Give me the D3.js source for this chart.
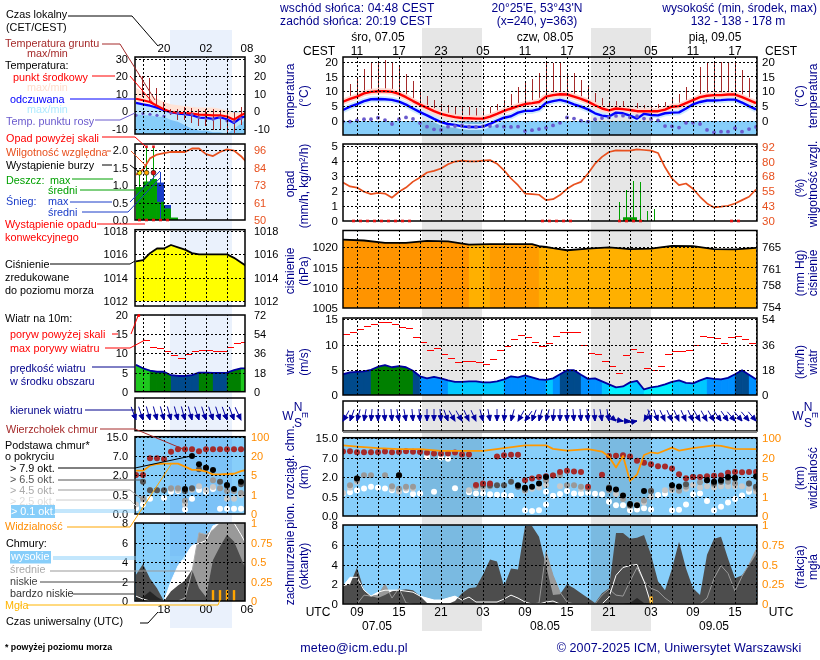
<![CDATA[<!DOCTYPE html>
<html><head><meta charset="utf-8">
<script src="https://cdn.jsdelivr.net/npm/d3@7"></script>
<style>
html,body{margin:0;padding:0;background:#fff}
svg{display:block}
text{font-family:"Liberation Sans",Arial,sans-serif}
</style></head><body>
<svg id="c" width="820" height="660"></svg>
<script>
// ---------- main meteogram (hourly, UTC hours counted from 00 on 07.05) ----------
const mainTemp=[6.5,7.4,8.2,9.3,9.8,10,10,9.8,9.1,8,6.7,5.5,4.4,3.3,2.4,1.8,1.3,1,.9,.8,.8,1.5,2.4,3.4,4.2,5,5.7,6,6.4,8.2,8.7,9,8.9,8.2,7.4,6.5,5.3,4.2,3.6,4.2,4,3.7,3.3,3.3,3.3,3.3,3.8,4.8,5,6,7,8,8.5,8.7,8.7,8.9,8.9,8,7,6];
const mainFelt=[3.7,4.8,5.7,6.7,7.3,7.4,7.3,7.1,6.5,5.5,4.2,3,1.9,.7,-.4,-1,-1.3,-1.8,-2,-2,-1.9,-1,.1,1.1,1.6,2.8,3.4,3.4,4,6.1,6.7,7.1,6.5,5.6,4.8,3.9,2.6,1.8,1.5,2.8,2.6,1.8,.8,2.4,2,1.9,2.6,2.8,2.9,4.2,5.6,6.4,6.9,6.9,7,7.2,7.2,6.2,5,3.9];
const mainDew=[-.2,-.2,.2,.6,.6,1.1,.3,-1,.6,1.2,.7,-.7,-1.9,-2.8,-3,-1.9,-1.7,-1.5,-1.9,-2,-1.8,-1.7,-1.7,-1.9,-2,-1.9,-3.4,-3.1,-2.7,-2.3,-1.5,-.6,1.2,.8,.1,-.2,.6,1,1.2,1.7,1.8,1.2,1.6,.8,.7,.2,-1.7,-1.8,-2.2,-.6,-.6,-1,-3,-3.8,-3.6,-3.6,-2.4,-3.6,-2.7,-2];
const mainGroundMax=[6.5,12.5,14.4,17.4,19.4,20,20.6,20,18.3,15.7,13.5,10.7,8.4,7,5.7,5.3,4.8,4.6,4.6,4.3,4.3,4.6,5.7,7,9,11.3,13.3,14,16,19.4,19.4,19.4,16,16,13.8,11.3,9.3,7.6,6,6.7,6.7,4.8,6,5.4,4.8,5.6,6.5,7.6,9,11.3,7,18,19.7,19.9,19.9,19.9,19.4,17.2,14.4,7];
const mainGroundMin=[6,7,7.8,8.8,9.3,9.5,9.5,9.3,8.6,7.5,6.2,5,3.9,2.8,1.9,1.3,.8,.5,.4,.3,.3,1,1.9,2.9,3.7,4.5,5.2,5.5,5.9,7.7,8.2,8.5,8.4,7.7,6.9,6,4.8,3.7,2.6,3.2,3.2,3.2,2.8,2.8,2.8,2.8,3.3,4.3,4.5,5.5,6.5,7.5,8,8.2,8.2,8.4,8.4,7.5,6.5,5.5];
const mainHumidity=[62.3,59,58,54.5,52.5,53.6,53,49.5,54.5,58,63,66.4,70.6,72,74,77.5,79.8,80.6,80,80,80.6,81,78,72.5,65.6,60,53,52.5,52,47.5,48.3,51.7,57,60.6,62.8,69.8,78,83.7,87.8,89.2,89,89,90,89.5,89,87,75,65.6,60,61.4,57,50.3,44.7,41.4,42,42.8,44.7,47.5,50.3,56.4];
const mainRainMaxHours=[46.5,47.5,48.5,49.5,50.5,51.5];
const mainRainMax=[1.3,2.1,2.65,2.6,.7,.78];
const mainRainMeanHours=[47,48,49];
const mainRainMean=[.25,.25,.05];
const mainConvective=[8.5,9.5,10.5,11.5,12.5,13.5,14.5,15.5,16.5,35.5,36.5,37.5,38.5,39.5,46.5,47.5,48.5,49.5,62.5,63.5];
const mainPressureHours=[7,10,13,16,19,22,25,28,31,34,35,36,37,39,42,45,48,51,54,57,60,63,66];
const mainPressure=[1021.8,1021.6,1021,1021,1021.5,1021.4,1020.6,1020.7,1020.7,1020.7,1020.2,1020,1019.7,1019.2,1019.6,1019.9,1019.5,1019.6,1020.3,1020.2,1019.5,1019.4,1019.8];
const mainWind=[4.1,4.5,4.6,4.7,5,5.6,5.9,5.5,5.7,5.5,4.8,3.7,3.3,3.6,3.3,2.9,2.6,2.6,2.7,2.7,2.5,2.5,2.7,3.1,3.7,3.5,3.9,3.5,3.1,3,3.3,4.1,4.9,4.9,4,3.2,3.3,2.7,2.1,1.5,1.7,2.5,2.8,1.1,1.5,1.7,2.1,2.6,2.9,2.4,2.3,2.9,3.4,3.2,3.1,3.4,4.1,4.9,4,3.1];
const mainGust=[12,12.3,12.9,13.6,14,14.4,14.4,13.9,13.4,13.2,11.3,10.5,8.9,9.3,8.1,7.3,6.5,6.7,6.7,6.4,6.1,7.1,8.9,9.7,10.9,11.7,11.3,10.5,9.7,10.3,11.6,12.3,12.3,12.3,9.9,8.3,8.1,6.7,5.6,4.3,7.9,9.1,8.5,5.3,4.9,5.7,8.1,8.7,8.7,8.9,9.9,11.5,11.3,11.1,10.3,11.3,11.5,10.9,10.2];
const mainDirection=[30,20,15,10,5,0,-5,-5,-10,-10,-5,-5,0,0,-5,-20,-30,-30,-25,-25,-15,-10,0,5,15,30,35,20,15,15,5,0,0,-5,-5,-5,-5,-10,-10,-50,-80,-90,-100,30,-15,-20,-25,-25,-25,-25,-25,-30,-30,-30,-35,-35,-40,-40,-40,-40];
const mainCloudTop=[[7,9.5],[8,9.6],[9,9.2],[10,9.2],[11,9.2],[12,9.2],[13,9.5],[14,9.2],[15,9.3],[16,9.6],[17,9.4],[18,9.3],[19,9],[20,8.7],[21,8.6],[22,8.7],[23,9.1],[24,8.3],[25,8.3],[26,1.4],[27,1.5],[28,1.5],[29,7.5],[30,8],[31,8.2],[32,8.2],[33,1.75],[34,1.88],[35,2],[36,2.2],[37,2.4],[38,3.3],[39,3.6],[40,3.4],[41,3.3],[42,1.25],[44,2.6],[45,7.7],[46,7.8],[47,8],[48,7.5],[49,6.2],[50,5.7],[51,5.3],[52,4.8],[53,4.7],[54,4.2],[55,2.7],[56,1.9],[57,2],[58,2],[59,2.2],[60,2.3],[61,2.4],[62,3.1],[63,3.3],[64,3.2],[65,3.3],[66,3.3]];
const mainBase79=[[9,1.88],[15,2.44],[32,1.38],[33,1.18],[34,1.25],[35,1.5],[36,2],[45,1.13],[46,1.05],[47,.6],[48,.31],[49,.28],[50,.93],[54,1.38],[55,1.28],[59,1.75],[60,1.63],[61,1.75],[62,2],[63,1.95],[66,2.1]];
const mainBase65=[[9,1.88],[15,2.44],[27,1.43],[28,1.38],[29,1.38],[30,1.38],[31,1.63],[32,1.25],[33,1.13],[45,1.2],[48,.28],[51,.93],[56,1.45],[57,2],[59,1.75],[60,1.55],[61,1.63],[62,1.93],[63,1.88],[65,1.5],[66,1.25]];
const mainBase45=[[8,1.38],[9,1.75],[10,2.44],[11,2.44],[13,2.44],[14,1.3],[15,1.1],[16,1.25],[17,1.25],[26,1.3],[27,1.3],[28,1.3],[33,1],[36,1.75],[37,2.44],[38,2.44],[39,1.38],[40,1.38],[41,1.25],[42,1.13],[45,1],[47,.44],[48,.28],[50,.4],[51,.93],[54,1.13],[55,.95],[56,1.25],[58,1.6],[60,1.43],[62,1.63],[63,1.5],[65,1.5],[66,1.13]];
const mainBase25=[[7,.78],[8,1.18],[9,1.63],[14,1.1],[15,.88],[16,1.13],[17,1.13],[25,1],[26,1.18],[27,1.13],[33,.95],[34,1.1],[35,1.2],[36,1.4],[38,1.3],[41,1.1],[42,1.2],[46,.7],[47,.6],[48,.25],[49,.3],[50,.35],[51,.5],[53,1],[54,1],[55,.95],[56,1.1],[57,1.4],[58,1.2],[59,1.3],[60,1.2],[61,1.3],[62,1.3],[63,1.3],[64,1.3],[65,1.1],[66,.9]];
const mainBase01=[[7,.75],[8,.83],[9,1],[10,1.13],[11,1.25],[12,1.18],[13,1.13],[14,1],[15,.93],[16,1],[17,.7],[18,.75],[19,7.3],[20,.88],[21,7.1],[22,6.7],[23,1.15],[25,.83],[26,.75],[27,.75],[28,.68],[29,.65],[30,.63],[31,.58],[33,.15],[34,.13],[35,.15],[36,.3],[36,.88],[37,.58],[38,.7],[39,.93],[40,.75],[41,.75],[42,.8],[43,.73],[44,.68],[45,.37],[46,.28],[47,.28],[48,.15],[49,.17],[50,.2],[51,.17],[52,.63],[53,.73],[54,.15],[55,.16],[56,.3],[57,.68],[58,.75],[59,.39],[60,.15],[61,.24],[62,.35],[63,.44],[64,.6],[65,.88],[66,1]];
const mainVisHours=[7,9,12,15,18,21,24,27,30,33,36,37,39,42,44,45,46,47,48,49,50,51,52,54,55,57,60,61,63,66];
const mainVisibility=[70,65,59,55,55,48,48,48,59,70,70,56,49,55,45,24,12.4,27,4.2,6.8,31,42,38,61,49,59,70,68,56,55];
const mainCloudLow=[1.8,2,3.7,1.4,.8,.6,.9,1.3,1.4,1.5,1.4,.8,.1,0,0,0,.3,1.1,1.6,1.7,3,4.5,4.3,1.8,3.6,3.5,7.9,7.9,6.8,3.9,.9,1,2,1.6,1.1,.6,.1,1.1,1.6,7.2,7.2,6.6,6.7,7,5,2.3,1.4,3.6,6.3,3.6,1.6,.9,5,6.6,6.8,4.6,2.6,2.9,3.9,5];
const mainCloudMid=[0,0,0,.9,.8,.9,2,.6,1.6,.1,0,0,0,0,0,0,0,0,0,0,0,0,0,0,0,0,0,0,.1,5.3,2.9,1.2,.2,0,0,0,0,.9,1.5,.9,.8,2.3,3.7,2.3,1.6,1.3,.6,.1,0,0,0,0,.6,2.6,3.9,3.1,1.3,2.8,4,5.5];
const mainCloudHigh=[1.8,2.7,2.7,1.4,.8,1.2,1.4,1.4,1.4,1.3,1.2,.8,.6,.4,.4,.6,.8,.4,.7,.2,.2,.2,.2,.5,.9,.6,.2,0,0,.2,.3,0,0,0,0,0,0,0,.7,2.9,3.7,3.9,4,2.3,0,0,0,0,0,0,0,0,0,0,0,0,0,0,0,0];
const mainCloudVeryLow=[0,0,0,0,0,0,0,0,0,0,0,0,0,0,0,0,0,0,0,0,0,0,0,0,0,0,0,0,0,0,0,0,0,0,0,0,0,0,0,0,0,.1,.6,.1,0,0,0,0,0,0,0,0,0,0,0,0,0,0,0,0];
const mainFogHours=[51];
const mainFog=[.09];

// ---------- short-range column (left), hourly from 14 UTC ----------
const leftTemp=[7.2,6.3,5.3,3.2,1.1,-.4,-1,-1,-1.3,-1.9,-2.1,-2.3,-2.3,-3,-4.8,-2.3,-.4];
const leftFelt=[4.8,4,3.2,2.1,.6,-.6,-1.3,-1.7,-2.3,-3.6,-3.8,-4.4,-3.4,-4.6,-6.7,-3.6,-2.7];
const leftTempMax=[13.5,11,9.1,7.2,5.3,4,3.4,3,2.5,2.1,2.1,2.1,1.5,.6,-.8,-.4,.6];
const leftFeltMin=[-1.5,-2.3,-2.3,-3.2,-3.2,-5,-6,-8,-10,-11,-11,-12,-12,-13,-10,-7,-3.2];
const leftDew=[-2.3,-1.3,-1.7,-2.3,-2.7,-1,-1,-1.3,-1.9,-3.6,-4.2,-4.6,-3.6,-5.5,-6,-4.2,-3];
const leftGroundHours=[15,16,17,18,19,20,21,22,23,24,25,26,27,28,29];
const leftGroundMax=[20,19,13.5,5.3,1.5,1.5,2.5,2.1,1.5,1.5,1.5,.6,.6,-.4,2.5];
const leftGroundMin=[8,5.3,3.4,.6,-2.3,-5,-5,-7,-8.6,-8.6,-10.5,-10.5,-12,-12.4,-8];
const leftHumidity=[79.7,83,90.5,93,94,94.7,94.7,94.7,97,97,93.3,92,94.7,96.4,95.6,91.9,87];
const leftRainHours=[14,15,16,17,18,19];
const leftRainMean=[.94,1.1,1.17,.52,.33,.07];
const leftSnowMean=[0,0,0,1.07,.43,0];
const leftRainMaxHours=[14.5,15.5,16.5];
const leftRainMax=[1.35,2.1,2.1];
const leftSnowMaxHours=[17.5];
const leftSnowMax=[1.38];
const leftOverScale=[15.5,16.5];
const leftStormHours=[14.5,15.5,16.5];
const leftStormLevel=[1,2,3];
const leftConvective=[14.5,15.5,16.5,17.5,18.5];
const leftPressure=[1015.4,1015.5,1016.1,1016.5,1016.5,1016.8,1016.6,1016.4,1016.1,1016,1016,1016,1016,1016,1015.7,1015.3,1014.9];
const leftWind=[7,6.1,5.5,5.2,5.2,4.3,4.1,4.1,4.3,5,5,4.9,4.9,5,5.6,6.1,6.1];
const leftGustHours=[15,16,17,18,19,20,21,22,23,24,25,26,27,28,29];
const leftGust=[13.4,11.5,11.2,10.4,9.5,8.7,9.7,10.4,10.7,10.7,10.4,10.4,11.5,12.6,12.9];
const leftOverGustHours=[14.4];
const leftOverGust=[19.9];
const leftDirection=[-20,-18,-15,-15,-15,-15,-15,-15,-15,-18,-18,-18,-18,-20,-20,-25];
const leftCloudTop=[[14,2],[15,2],[16,6.4],[17,6.4],[18,6.2],[19,8.8],[20,9.8],[21,9.8],[22,9.8],[23,9],[24,9.8],[25,9.8],[26,9.8],[27,9.8],[28,9.8],[29,9.8]];
const leftBase79=[[21,.95],[22,7],[23,4.8],[24,3.93],[25,3.3],[27,1.25],[28,.95],[29,1.5],[30,1.9]];
const leftBase65=[[15,1.5],[16,.85],[17,.85],[18,.85],[21,.8],[22,1],[23,3.5],[24,3.9],[26,1.5],[27,1.2],[29,1.3],[30,1.5]];
const leftBase45=[[15,.4],[16,.85],[17,.85],[19,1],[20,1],[21,.35],[22,.95],[25,1.6],[26,1],[27,.8],[28,.8],[29,.65]];
const leftBase25=[[14,.25],[15,.38],[19,.95],[20,.88],[21,.25],[22,.9],[23,1.15],[24,.88],[25,1.1],[27,.4],[28,.4],[29,.5]];
const leftBase01=[[14,.15],[15,.25],[16,.4],[18,.42],[19,.75],[20,.8],[21,.12],[22,.4],[23,.88],[24,.75],[25,.95],[26,.14],[27,.14],[28,.14],[29,.14]];
const leftVisibility=[8.4,8.4,12.4,13.7,14,14,14,11.6,9,9,7.6,5.5,5.5,5.8,6,8,9.3];
const leftCloudLow=[2.7,3.8,2.3,1.3,0,1,1.6,2.1,3.2,1.3,.4,4.2,5.6,6.8,6.1,4.4,2.7];
const leftCloudMid=[0,0,0,0,0,0,0,.3,3,7,6.8,7.3,8,8,8,8,8];
const leftCloudHigh=[.5,.2,0,0,0,2,3.6,4.6,5.7,5.9,6.2,7.7,8,8,8,6.8,5.5];
const leftCloudVeryLow=[.5,.4,1,.4,0,0,0,0,0,0,0,0,0,0,0,0,0];
const leftFogHours=[25,26,27,28];
const leftFog=[.14,.14,.14,.14];

// ---------- tick labels ----------
const mainLocalTicks=[9,15,21,27,33,39,45,51,57,63];
const mainLocalLabels=["11","17","23","05","11","17","23","05","11","17"];
const mainUtcLabels=["09","15","21","03","09","15","21","03","09","15"];
const dayLabels=["śro, 07.05","czw, 08.05","pią, 09.05"];
const dateLabels=["07.05","08.05","09.05"];
const leftTimeTicks=[18,24,29.85];
const leftLocalLabels=["20","02","08"];
const leftUtcLabels=["18","00","06"];

// ---------- drawing ----------
const svg=d3.select("#c");
const BLUE="#00008b",SKY="#87cefa",RED="#ff0000",OR="#ff8c00",HUM="#e8501e",GREEN="#00a000";
svg.append("rect").attr("width",820).attr("height",660).attr("fill","#fff");
const xMain=d3.scaleLinear([7,66.14],[343,757]);
const xLeft=d3.scaleLinear([13.86,29.57],[135,245]);
const hoursOf=(arr,start)=>arr.map((_,i)=>i+start);
let clipN=0;

// night shading lies under every plot; only the sky colour multiplies with it
[[422,482],[591,651]].forEach(b=>svg.append("rect").attr("x",b[0]).attr("y",28).attr("width",b[1]-b[0]).attr("height",603).attr("fill","#e6e6e6"));
svg.append("rect").attr("x",170).attr("y",30).attr("width",62).attr("height",598).attr("fill","#eaf1fc");

function panel(x,top,bottom,yGrid,leftAx,rightAx,opts={}){
  const x0=x.range()[0],x1=x.range()[1];
  const id="cp"+(clipN++);
  svg.append("clipPath").attr("id",id).append("rect").attr("x",x0).attr("y",top).attr("width",x1-x0).attr("height",bottom-top);
  if(opts.skyFrom!==undefined){
    svg.append("rect").attr("x",x0).attr("y",opts.skyFrom).attr("width",x1-x0).attr("height",bottom-opts.skyFrom)
      .attr("fill",SKY).style("mix-blend-mode","multiply");
  }
  const g=svg.append("g").attr("clip-path",`url(#${id})`);
  return {g,id,x0,x1,top,bottom,finish(){
    const hours=d3.range(Math.ceil(x.domain()[0]/3)*3,x.domain()[1],3);
    const vg=svg.append("g").attr("clip-path",`url(#${id})`).append("g").attr("transform",`translate(0,${bottom})`)
      .call(d3.axisBottom(x).tickValues(hours).tickSize(-(bottom-top)).tickFormat(""));
    vg.select(".domain").remove();
    vg.selectAll("text").remove();
    vg.selectAll("line").attr("stroke","#000").attr("stroke-dasharray","2,2").attr("shape-rendering","crispEdges");
    if(yGrid){
      const hg=svg.append("g").attr("clip-path",`url(#${id})`).append("g").attr("transform",`translate(${x0},0)`)
        .call(d3.axisLeft(yGrid.scale).tickValues(yGrid.values).tickSize(-(x1-x0)).tickFormat(""));
      hg.select(".domain").remove();
      hg.selectAll("text").remove();
      hg.selectAll("line").attr("stroke","#000").attr("stroke-dasharray","2,2").attr("shape-rendering","crispEdges");
    }
    svg.append("rect").attr("x",x0).attr("y",top).attr("width",x1-x0).attr("height",bottom-top)
      .attr("fill","none").attr("stroke","#000").attr("stroke-width",1.5);
    if(leftAx) tickAxis(d3.axisLeft,x0,leftAx,opts.padL||5);
    if(rightAx) tickAxis(d3.axisRight,x1,rightAx,opts.padR||5);
  }};
}
function tickAxis(kind,xp,ax,pad){
  const a=svg.append("g").attr("transform",`translate(${xp},0)`)
    .call(kind(ax.scale).tickValues(ax.values).tickSize(0).tickPadding(pad).tickFormat(ax.format||(d=>d)));
  a.select(".domain").remove();
  a.selectAll("text").attr("fill",ax.color||"#000").style("font-size",(ax.size||11.5)+"px")
    .style("font-family","'Liberation Sans',Arial,sans-serif");
}
function line(g,x,y,hs,vs,color,w,curve){
  const l=d3.line().x(d=>x(d[0])).y(d=>y(d[1])).curve(curve||d3.curveLinear);
  return g.append("path").attr("d",l(hs.map((h,i)=>[h,vs[i]]))).attr("fill","none").attr("stroke",color).attr("stroke-width",w).attr("stroke-linejoin","round");
}
function band(g,x,y,hs,a,b,color){
  const ar=d3.area().x(d=>x(d[0])).y0(d=>y(d[1])).y1(d=>y(d[2]));
  g.append("path").attr("d",ar(hs.map((h,i)=>[h,a[i],b[i]]))).attr("fill",color);
}
function segFill(g,x,y,hs,vs,colorScale){
  const ar=d3.area().x(d=>x(d[0])).y0(y.range()[0]).y1(d=>y(d[1]));
  for(let i=0;i<hs.length-1;i++){
    g.append("path").attr("d",ar([[hs[i],vs[i]],[hs[i+1],vs[i+1]]])).attr("fill",colorScale(vs[i]))
      .attr("stroke",colorScale(vs[i])).attr("stroke-width",.3);
  }
}
function dots(g,x,y,pairs,color,r){
  g.selectAll(null).data(pairs).join("circle").attr("cx",d=>x(d[0])).attr("cy",d=>y(d[1])).attr("r",r).attr("fill",color);
}
function vbars(g,x,y,hs,a,b,color,w){
  g.selectAll(null).data(hs.map((h,i)=>[h,a?a[i]:0,b[i]])).join("line")
    .attr("x1",d=>x(d[0])).attr("x2",d=>x(d[0])).attr("y1",d=>y(d[1])).attr("y2",d=>y(d[2]))
    .attr("stroke",color).attr("stroke-width",w).attr("shape-rendering","crispEdges");
}
function bars(g,x,y,hs,vs,color){
  g.selectAll(null).data(hs.map((h,i)=>[h,vs[i]])).join("rect")
    .attr("x",d=>x(d[0])).attr("width",d=>x(d[0]+1)-x(d[0])).attr("y",d=>y(d[1])).attr("height",d=>y(0)-y(d[1])).attr("fill",color);
}
function gusts(g,x,y,hs,vs){
  g.selectAll(null).data(vs).join("line").attr("x1",(d,i)=>x(hs[i])).attr("x2",(d,i)=>x(hs[i]+1))
    .attr("y1",d=>y(d)).attr("y2",d=>y(d)).attr("stroke",RED).attr("stroke-width",1).attr("shape-rendering","crispEdges");
}
function convective(x,yp,hs){
  svg.selectAll(null).data(hs).join("rect").attr("x",d=>x(d)-1.5).attr("width",3).attr("y",yp).attr("height",2.6).attr("fill","#e01010");
}
function arrows(x,yHead,hs,dirs,len){
  const g=svg.append("g");
  g.selectAll(null).data(hs.map((h,i)=>[h,dirs[i]])).join("path")
    .attr("transform",d=>`translate(${x(d[0])},${yHead}) rotate(${d[1]})`)
    .attr("d",`M0,${-len}L0,0M-2.4,-5.5L0,0L2.4,-5.5Z`).attr("fill","#0000a0").attr("stroke","#0000a0").attr("stroke-width",.9);
}
const windColor=d3.scaleThreshold([2.2,3.05,4.05,5,6],["#00f0ff","#00c8ff","#0090ff","#004a8c","#008000","#1ec81e"]);
const pressColorMain=d3.scaleThreshold([1020.65,1021],["#ffb000","#ff9c00","#ff9400"]);
const pressColorLeft=()=>"#ffff00";
const baseDomain=[0,.5,2,7,15];
const visDomain=[0,1,5,20,100];
const okFmt=d3.format(".1f");

// ---- MAIN COLUMN ----
{ // temperature
 const y=d3.scaleLinear([0,20],[121,61.5]);
 const p=panel(xMain,57,135,{scale:y,values:[0,5,10,15,20]},{scale:y,values:[0,5,10,15,20]},{scale:y,values:[0,5,10,15,20]},{skyFrom:y(0)});
 const hs=hoursOf(mainTemp,7);
 vbars(p.g,xMain,y,hs,mainGroundMin,mainGroundMax,"#a52a2a",1);
 line(p.g,xMain,y,hs,mainFelt,"#cdeafd",6);
 line(p.g,xMain,y,hs,mainTemp,"#ffd8d0",6);
 line(p.g,xMain,y,hs,mainFelt,"#0000ff",2.4);
 line(p.g,xMain,y,hs,mainTemp,RED,2.4);
 dots(p.g,xMain,y,hs.map((h,i)=>[h,mainDew[i]]),"#6a5acd",1.9);
 p.finish();
}
{ // rain + humidity
 const y=d3.scaleLinear([0,5],[221,146]);
 const yH=d3.scaleLinear([30,92],[221,147]);
 const p=panel(xMain,144,221,{scale:y,values:[1,2,3,4,5]},{scale:y,values:[0,1,2,3,4,5]},{scale:yH,values:[30,43,55,68,80,92],color:HUM});
 bars(p.g,xMain,y,mainRainMeanHours,mainRainMean,GREEN);
 vbars(p.g,xMain,y,mainRainMaxHours,null,mainRainMax,GREEN,1);
 line(p.g,xMain,yH,hoursOf(mainHumidity,7),mainHumidity,HUM,1.7);
 p.finish();
 convective(xMain,219.7,mainConvective);
}
{ // pressure
 const y=d3.scaleLinear([1005,1020],[308,247]);
 const yMm=d3.scaleLinear([753.8,765],[308,247]);
 const p=panel(xMain,230.5,308,{scale:y,values:[1010,1015,1020]},{scale:y,values:[1005,1010,1015,1020]},{scale:yMm,values:[754,758,761,765]});
 segFill(p.g,xMain,y,mainPressureHours,mainPressure,pressColorMain);
 line(p.g,xMain,y,mainPressureHours,mainPressure,"#000",1.8);
 p.finish();
}
{ // wind
 const y=d3.scaleLinear([0,15],[395,319.3]);
 const yK=d3.scaleLinear([0,54],[395,319.3]);
 const p=panel(xMain,318,395,{scale:y,values:[5,10,15]},{scale:y,values:[0,5,10,15]},{scale:yK,values:[0,18,36,54]});
 const hs=hoursOf(mainWind,7);
 segFill(p.g,xMain,y,hs,mainWind,windColor);
 line(p.g,xMain,y,hs,mainWind,"#0000a0",1.8);
 gusts(p.g,xMain,y,hoursOf(mainGust,7),mainGust);
 p.finish();
}
{ // wind direction
 const p=panel(xMain,401,431,null,null,null);
 p.finish();
 svg.append("line").attr("x1",343).attr("x2",757).attr("y1",432).attr("y2",432).attr("stroke","#808080").attr("stroke-width",2);
 arrows(xMain,421,hoursOf(mainDirection,7),mainDirection,12);
}
{ // cloud base + visibility
 const y=d3.scaleLinear(baseDomain,[516,496.7,477,457.7,438]);
 const yV=d3.scaleLinear(visDomain,[516,496.7,477,457.7,438]);
 const p=panel(xMain,437.7,516,{scale:y,values:[.5,2,7,15]},{scale:y,values:baseDomain,format:okFmt},{scale:yV,values:visDomain,color:OR},{skyFrom:437.7});
 [[mainBase01,"#fff"],[mainBase25,"#c8c8c8"],[mainBase45,"#999"],[mainBase65,"#555"],[mainCloudTop,"#a52a2a"],[mainBase79,"#000"]].forEach(s=>dots(p.g,xMain,y,s[0],s[1],3));
 line(p.g,xMain,yV,mainVisHours,mainVisibility,"#ff9800",1.8);
 p.finish();
}
{ // clouds + fog
 const y=d3.scaleLinear([0,8],[604,525]);
 const yF=d3.scaleLinear([0,1],[604,525]);
 const p=panel(xMain,525,604,{scale:y,values:[2,4,6]},{scale:y,values:[0,2,4,6,8]},{scale:yF,values:[0,.25,.5,.75,1],color:OR},{skyFrom:525});
 const hs=hoursOf(mainCloudLow,7),zero=hs.map(()=>0);
 band(p.g,xMain,y,hs,zero,mainCloudHigh,"#fff");
 band(p.g,xMain,y,hs,zero,mainCloudMid,"#999");
 band(p.g,xMain,y,hs,zero,mainCloudLow,"#4d4d4d");
 band(p.g,xMain,y,hs,zero,mainCloudVeryLow,"#262626");
 line(p.g,xMain,y,hs,mainCloudMid,"#999",1);
 line(p.g,xMain,y,hs,mainCloudHigh,"#fff",1);
 p.g.selectAll(null).data(mainFogHours).join("rect").attr("x",d=>xMain(d)-1).attr("width",2.2).attr("y",(d,i)=>yF(mainFog[i])).attr("height",(d,i)=>yF(0)-yF(mainFog[i])).attr("fill","#ffe080").attr("stroke","#ffa500").attr("stroke-width",.8);
 p.finish();
}

// ---- LEFT COLUMN ----
{ // temperature
 const y=d3.scaleLinear([-10,30],[128.7,59]);
 const p=panel(xLeft,57,134,{scale:y,values:[-10,0,10,20,30]},{scale:y,values:[-10,0,10,20,30],size:11},{scale:y,values:[-10,0,10,20,30],size:11},{padL:7,padR:9,skyFrom:y(0)});
 const hs=hoursOf(leftTemp,14);
 band(p.g,xLeft,y,hs,leftFelt,leftFeltMin,"#bfe6fd");
 band(p.g,xLeft,y,hs,leftFelt,leftTemp,"#ffe8de");
 band(p.g,xLeft,y,hs,leftTemp,leftTempMax,"#ffe3d6");
 vbars(p.g,xLeft,y,leftGroundHours,leftGroundMin,leftGroundMax,"#a52a2a",1);
 line(p.g,xLeft,y,hs,leftFelt,"#0000ff",2.2);
 line(p.g,xLeft,y,hs,leftTemp,RED,2.2);
 dots(p.g,xLeft,y,hs.map((h,i)=>[h,leftDew[i]]),"#6a5acd",1.6);
 p.finish();
}
{ // rain + humidity
 const y=d3.scaleLinear([0,2],[220,150]);
 const yH=d3.scaleLinear([50,96],[220,150]);
 const p=panel(xLeft,144,220,{scale:y,values:[.5,1,1.5,2]},{scale:y,values:[0,.5,1,1.5,2],format:okFmt,size:11},{scale:yH,values:[50,61,73,84,96],color:HUM,size:11},{padL:7,padR:9});
 bars(p.g,xLeft,y,leftRainHours,leftSnowMean,"#1a3cc8");
 bars(p.g,xLeft,y,leftRainHours,leftRainMean,GREEN);
 vbars(p.g,xLeft,y,leftRainMaxHours,null,leftRainMax,GREEN,1);
 vbars(p.g,xLeft,y,leftSnowMaxHours,null,leftSnowMax,"#1a3cc8",1);
 line(p.g,xLeft,yH,hoursOf(leftHumidity,14),leftHumidity,HUM,1.8);
 const stormColor=d3.scaleOrdinal([1,2,3],["#ffee00","#ffa500","#e01010"]);
 p.g.selectAll(null).data(leftStormHours).join("circle").attr("cx",d=>xLeft(d)).attr("cy",(d,i)=>y(leftRainMax[0])).attr("r",2.4).attr("fill",(d,i)=>stormColor(leftStormLevel[i])).attr("stroke","#000").attr("stroke-width",.6);
 p.finish();
 convective(xLeft,218.7,leftConvective);
 svg.selectAll(null).data(leftOverScale).join("rect").attr("x",d=>xLeft(d)-1.3).attr("width",2.6).attr("y",145.5).attr("height",2.6).attr("fill","#e01010");
}
{ // pressure
 const y=d3.scaleLinear([1012,1018],[301,231]);
 const p=panel(xLeft,229.7,306,{scale:y,values:[1012,1014,1016,1018]},{scale:y,values:[1012,1014,1016,1018],size:11},{scale:y,values:[1012,1014,1016,1018],size:11},{padL:7,padR:9});
 const hs=hoursOf(leftPressure,14);
 segFill(p.g,xLeft,y,hs,leftPressure,pressColorLeft);
 line(p.g,xLeft,y,hs,leftPressure,"#000",1.8);
 p.finish();
}
{ // wind
 const y=d3.scaleLinear([0,20],[391.7,315]);
 const yK=d3.scaleLinear([0,72],[391.7,315]);
 const p=panel(xLeft,315,391.7,{scale:y,values:[5,10,15]},{scale:y,values:[0,5,10,15,20],size:11},{scale:yK,values:[0,18,36,54,72],size:11},{padL:7,padR:9});
 const hs=hoursOf(leftWind,14);
 segFill(p.g,xLeft,y,hs,leftWind,windColor);
 line(p.g,xLeft,y,hs,leftWind,"#0000a0",1.8);
 gusts(p.g,xLeft,y,leftGustHours,leftGust);
 p.finish();
 svg.selectAll(null).data(leftOverGustHours).join("circle").attr("cx",d=>xLeft(d)).attr("cy",(d,i)=>y(leftOverGust[i])).attr("r",1.5).attr("fill",RED);
}
{ // wind direction
 const p=panel(xLeft,398,430.7,null,null,null);
 p.finish();
 arrows(xLeft,420,hoursOf(leftDirection,14),leftDirection,14);
}
{ // cloud base + visibility
 const y=d3.scaleLinear(baseDomain,[514,495,475,456,436.7]);
 const yV=d3.scaleLinear(visDomain,[514,495,475,456,436.7]);
 const p=panel(xLeft,436.7,514,{scale:y,values:[.5,2,7,15]},{scale:y,values:baseDomain,format:okFmt,size:11},{scale:yV,values:visDomain,color:OR,size:11},{skyFrom:436.7,padL:7,padR:6});
 [[leftBase01,"#fff"],[leftBase25,"#c8c8c8"],[leftBase45,"#999"],[leftBase65,"#555"],[leftCloudTop,"#a52a2a"],[leftBase79,"#000"]].forEach(s=>dots(p.g,xLeft,y,s[0],s[1],3));
 line(p.g,xLeft,yV,hoursOf(leftVisibility,14),leftVisibility,"#ff9800",1.8);
 p.finish();
}
{ // clouds + fog
 const y=d3.scaleLinear([0,8],[601,523]);
 const yF=d3.scaleLinear([0,1],[601,523]);
 const p=panel(xLeft,523,601,{scale:y,values:[2,4,6]},{scale:y,values:[0,2,4,6,8],size:11},{scale:yF,values:[0,.25,.5,.75,1],color:OR,size:11},{skyFrom:523,padL:7,padR:6});
 const hs=hoursOf(leftCloudLow,14),zero=hs.map(()=>0);
 band(p.g,xLeft,y,hs,zero,leftCloudHigh,"#fff");
 band(p.g,xLeft,y,hs,zero,leftCloudMid,"#999");
 band(p.g,xLeft,y,hs,zero,leftCloudLow,"#4d4d4d");
 band(p.g,xLeft,y,hs,zero,leftCloudVeryLow,"#262626");
 line(p.g,xLeft,y,hs,leftCloudMid,"#aaa",1);
 line(p.g,xLeft,y,hs,leftCloudHigh,"#fff",1);
 p.g.selectAll(null).data(leftFogHours).join("rect").attr("x",d=>xLeft(d)-1.2).attr("width",2.4).attr("y",(d,i)=>yF(leftFog[i])).attr("height",(d,i)=>yF(0)-yF(leftFog[i])).attr("fill","#ffa500");
 p.finish();
}

// ---- TEXT ----
function T(x,y,s,color,o={}){
  const t=svg.append("text").attr("x",x).attr("y",y).text(s).attr("fill",color||"#000")
   .style("font-size",(o.size||10.8)+"px").attr("text-anchor",o.anchor||"start");
  if(o.weight)t.style("font-weight",o.weight);
  if(o.ls)t.style("letter-spacing",o.ls+"px");
  if(o.rot!==undefined)t.attr("transform",`rotate(${o.rot},${x},${y})`);
  return t;
}
function L(pts,color,w){
  svg.append("path").attr("d",d3.line()(pts)).attr("fill","none").attr("stroke",color).attr("stroke-width",w||1);
}
// header
T(280,12,"wschód słońca: 04:48 CEST",BLUE,{size:12,ls:.15});
T(280,25,"zachód słońca: 20:19 CEST",BLUE,{size:12,ls:.15});
T(537,12,"20°25'E, 53°43'N",BLUE,{size:12,anchor:"middle"});
T(537,25,"(x=240,  y=363)",BLUE,{size:12,anchor:"middle"});
T(817,12,"wysokość (min, środek, max)",BLUE,{size:12,anchor:"end"});
T(738,25,"132 - 138 - 178 m",BLUE,{size:12,anchor:"middle"});
// time labels
[378,545,715].forEach((x,i)=>T(x,41,dayLabels[i],"#000",{size:12,anchor:"middle"}));
T(319,55,"CEST","#000",{size:12,anchor:"middle"});
T(781,55,"CEST","#000",{size:12,anchor:"middle"});
T(318,616,"UTC","#000",{size:12,anchor:"middle"});
T(781,616,"UTC","#000",{size:12,anchor:"middle"});
mainLocalTicks.forEach((h,i)=>{
  T(xMain(h),55,mainLocalLabels[i],"#000",{size:12,anchor:"middle"});
  T(xMain(h),616,mainUtcLabels[i],"#000",{size:12,anchor:"middle"});
});
[377,545,714].forEach((x,i)=>T(x,630,dateLabels[i],"#000",{size:12,anchor:"middle"}));
leftTimeTicks.forEach((h,i)=>{
  T(xLeft(h),52,leftLocalLabels[i],"#000",{size:11.5,anchor:"middle"});
  T(xLeft(h),613,leftUtcLabels[i],"#000",{size:11.5,anchor:"middle"});
});
// vertical axis titles
function V(x,y,s){T(x,y,s,BLUE,{size:12,anchor:"middle",rot:-90});}
V(294,96,"temperatura");V(308,96,"(°C)");
V(294,184,"opad");V(308,186,"(mm/h, kg/m²/h)");
V(294,271,"ciśnienie");V(308,271,"(hPa)");
V(294,362,"wiatr");V(308,362,"(m/s)");
V(294,477,"pion. rozciągł. chm.");V(308,477,"(km)");
V(294,568,"zachmurzenie");V(308,566,"(oktanty)");
V(804,96,"(°C)");V(817,96,"temperatura");
V(804,188,"(%)");V(817,184,"wilgotność wzgl.");
V(804,273,"(mm Hg)");V(817,273,"ciśnienie");
V(804,362,"(km/h)");V(817,362,"wiatr");
V(804,478,"(km)");V(817,478,"widzialność");
V(804,567,"(frakcja)");V(817,567,"mgła");
// compass
function compass(cx){
  T(cx,420,"W",BLUE,{size:12,anchor:"middle"});
  T(cx+10,411,"N",BLUE,{size:12,anchor:"middle"});
  T(cx+10,427,"S",BLUE,{size:12,anchor:"middle"});
  T(cx+13.5,412,"E",BLUE,{size:9,anchor:"start",rot:90});
}
compass(288);compass(798);
// footer
T(354,652,"meteo@icm.edu.pl",BLUE,{size:12.5,anchor:"middle",ls:.2});
T(679,652,"© 2007-2025 ICM, Uniwersytet Warszawski",BLUE,{size:12.5,anchor:"middle",ls:.1});
T(5,650,"* powyżej poziomu morza","#000",{size:8.8,weight:"bold"});
// legend column
const DR="#a52a2a",G="#00a000",SB="#1a3cc8",DB="#00008b",PU="#6a5acd";
T(6,18,"Czas lokalny");T(6,31,"(CET/CEST)");L([[68,16],[132,16],[158,46]],"#000");
T(5,47,"Temperatura gruntu",DR);T(27,57,"max/min",DR);L([[102,44],[120,44],[155,100]],DR);
T(5,69,"Temperatura:");
T(13,81,"punkt środkowy",RED);L([[92,76],[115,76]],RED);L([[130,76],[153,103]],RED);
T(27,91,"max/min","#ffddcc");
T(10,103,"odczuwana","#0000ff");L([[70,99],[135,99]],"#0000ff");
T(27,113,"max/min","#aeeaff");
T(6,125,"Temp. punktu rosy",PU);L([[95,120],[120,120],[135,113]],PU);
T(6,142,"Opad powyżej skali",RED);L([[102,137],[135,137],[145,146]],RED);
T(6,156,"Wilgotność względna",HUM);L([[107,151],[111,151]],HUM);L([[131,151],[145,165]],HUM);
T(6,169,"Wystąpienie burzy");L([[102,165],[112,165]],"#000");L([[130,165],[139,172]],"#000");
T(6,184,"Deszcz:",G);T(50,184,"max",G);L([[72,179],[113,179]],G);
T(48,194,"średni",G);L([[80,190],[137,190]],G);
T(6,205,"Śnieg:",SB);T(48,205,"max",SB);L([[70,202],[112,202]],SB);L([[130,202],[160,171]],SB);
T(48,216,"średni",SB);L([[82,212],[128,212],[160,178]],SB);
T(5,228,"Wystąpienie opadu",RED);T(5,241,"konwekcyjnego",RED);L([[97,224],[145,224]],RED);
T(5,268,"Ciśnienie");T(5,281,"zredukowane");T(5,294,"do poziomu morza");L([[50,264],[130,264],[135,261]],"#000");
T(5,322,"Wiatr na 10m:");
T(10,338,"poryw powyżej skali",RED);L([[112,334],[118,334]],RED);L([[131,334],[138,316]],RED);
T(10,352,"max porywy wiatru",RED);L([[105,348],[130,348],[145,340]],RED);
T(10,372,"prędkość wiatru",DB);L([[92,367],[135,367]],DB);
T(10,385,"w środku obszaru",DB);
T(10,414,"kierunek wiatru",DB);L([[85,410],[135,410]],DB);
T(6,433,"Wierzchołek chmur",DR);L([[100,429],[135,429],[183,449]],DR);
T(5,449,"Podstawa chmur*");T(5,460,"o pokryciu");
T(10,472,"> 7.9 okt.");L([[58,468],[135,468],[191,456]],"#000");
T(10,483,"> 6.5 okt.","#555");L([[58,480],[143,480]],"#555");
T(10,494,"> 4.5 okt.","#aaa");L([[58,490],[130,490],[143,500]],"#999");
T(10,505,"> 2.5 okt.","#ddd");L([[56,500],[130,500],[137,507]],"#ccc");
svg.append("rect").attr("x",11).attr("y",505).attr("width",44).attr("height",13).attr("fill",SKY);
T(11,515,"> 0.1 okt.","#fff");
L([[55,510],[135,510]],SKY);L([[55,512],[135,512]],SKY);
T(5,530,"Widzialność",OR);L([[67,527],[130,527],[172,463]],"#ffa500");
T(6,547,"Chmury:");
svg.append("rect").attr("x",10).attr("y",551).attr("width",41).attr("height",12.5).attr("fill",SKY);
T(11,560,"wysokie","#fff");L([[53,557],[185,557]],SKY);L([[53,559],[185,559]],SKY);
T(10,573,"średnie","#aaa");L([[50,571],[190,571]],"#999");
T(10,585,"niskie","#444");L([[40,582],[135,582]],"#444");
T(10,597,"bardzo niskie","#333");L([[73,594],[135,594]],"#333");
T(5,609,"Mgła","#ffb400");L([[27,605],[218,605],[220,600]],"#ffb400");
T(6,625,"Czas uniwersalny (UTC)");L([[140,623],[148,623],[158,612]],"#000");
</script>
</body></html>]]>
